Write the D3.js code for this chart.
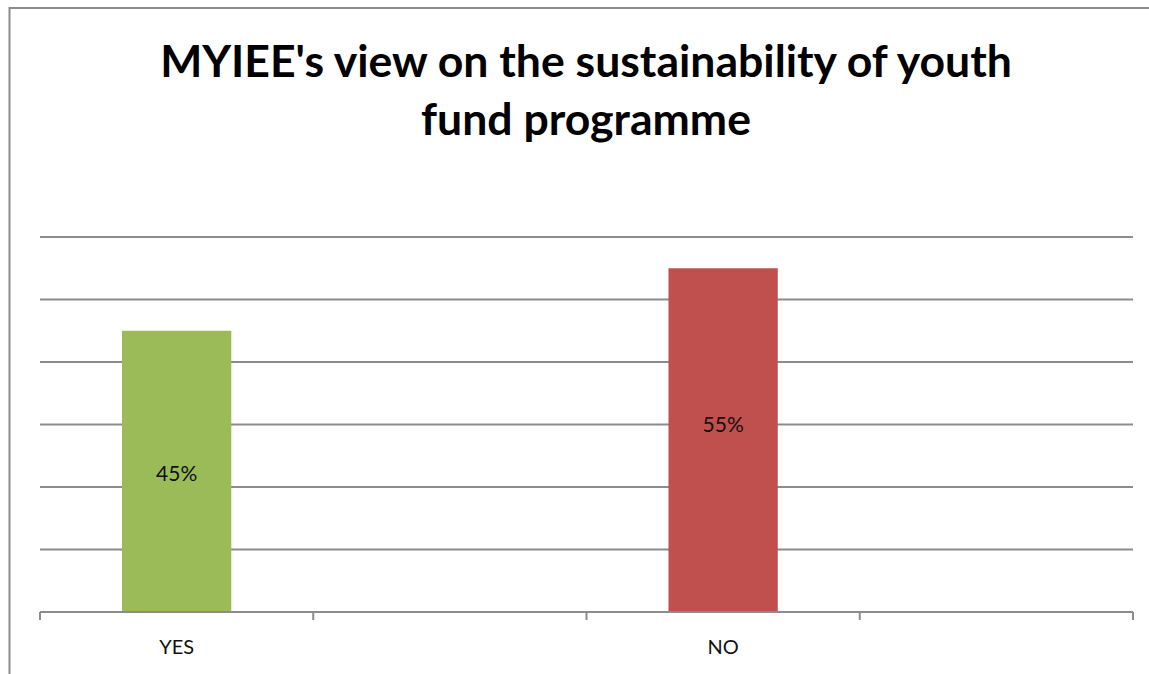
<!DOCTYPE html>
<html>
<head>
<meta charset="utf-8">
<script src="https://cdn.jsdelivr.net/npm/d3@7"></script>
<style>
  body { margin: 0; background: #fff; }
  svg { display: block; }
  text { font-family: Lato, 'Open Sans', sans-serif; }
</style>
</head>
<body>
<div id="chart"></div>
<script>
const titleLines = ["MYIEE's view on the sustainability of youth", 'fund programme'];

const categories = ['YES', '', 'NO', ' '];
const values = [0.45, null, 0.55, null];
const barColors = ['#9bbb59', null, '#c0504d', null];
// where Excel put each data label (value units)
const labelAt = [0.222, null, 0.30, null];
const yTicks = [0.1, 0.2, 0.3, 0.4, 0.5, 0.6];

const width = 1149;
const height = 674;
const margin = { top: 237, right: 16, bottom: 62, left: 40 };

const svg = d3.select('#chart').
append('svg').
attr('width', width).
attr('height', height);

// chart area border, runs off the right and bottom edge
svg.append('rect').
attr('x', 9.5).
attr('y', 8).
attr('width', width + 20).
attr('height', height + 20).
attr('fill', 'none').
attr('stroke', '#8c8c8c').
attr('stroke-width', 2);

const xScale = d3.scaleBand().
domain(categories).
range([margin.left, width - margin.right]).
padding(0);

const yScale = d3.scaleLinear().
domain([0, 0.6]).
range([height - margin.bottom, margin.top]);

// gridlines
svg.append('g').
selectAll('line').
data(yTicks).
enter().
append('line').
attr('x1', margin.left).
attr('x2', width - margin.right).
attr('y1', d => yScale(d)).
attr('y2', d => yScale(d)).
attr('stroke', '#8c8c8c').
attr('stroke-width', 2);

// bars
const barWidth = xScale.bandwidth() * 0.4;
const bars = categories.map((c, i) => ({ cat: c, value: values[i], color: barColors[i], label: labelAt[i] })).
filter(d => d.value != null);

svg.append('g').
selectAll('rect').
data(bars).
enter().
append('rect').
attr('x', d => xScale(d.cat) + (xScale.bandwidth() - barWidth) / 2).
attr('y', d => yScale(d.value)).
attr('width', barWidth).
attr('height', d => yScale(0) - yScale(d.value)).
attr('fill', d => d.color);

svg.append('g').
selectAll('text').
data(bars).
enter().
append('text').
attr('x', d => xScale(d.cat) + xScale.bandwidth() / 2).
attr('y', d => yScale(d.label)).
attr('dy', '0.35em').
attr('text-anchor', 'middle').
attr('font-size', 21).
attr('fill', '#111').
text(d => d3.format('.0%')(d.value));

// x axis with ticks on band edges
const xAxis = svg.append('g').
attr('transform', 'translate(0,' + yScale(0) + ')');

xAxis.append('line').
attr('x1', margin.left).
attr('x2', width - margin.right).
attr('stroke', '#8c8c8c').
attr('stroke-width', 2);

const edges = categories.map(c => xScale(c)).concat([xScale.range()[1]]);
xAxis.selectAll('line.tick').
data(edges).
enter().
append('line').
attr('class', 'tick').
attr('x1', d => d).
attr('x2', d => d).
attr('y1', 0).
attr('y2', 8).
attr('stroke', '#8c8c8c').
attr('stroke-width', 2);

xAxis.selectAll('text').
data(categories).
enter().
append('text').
attr('x', d => xScale(d) + xScale.bandwidth() / 2).
attr('y', 35).
attr('dy', '0.35em').
attr('text-anchor', 'middle').
attr('font-size', 20).
attr('fill', '#111').
text(d => d.trim());

// title, sized to span the same width as the original
const title = svg.append('g').
attr('transform', 'translate(586,0)');

const t1 = title.append('text').
attr('y', 77).
attr('text-anchor', 'middle').
attr('font-weight', 'bold').
attr('font-size', 40).
attr('fill', '#000').
text(titleLines[0]);

const fit = 40 * 852 / t1.node().getComputedTextLength();
t1.attr('font-size', fit);

title.append('text').
attr('y', 135).
attr('text-anchor', 'middle').
attr('font-weight', 'bold').
attr('font-size', fit).
attr('fill', '#000').
text(titleLines[1]);
</script>
</body>
</html>
